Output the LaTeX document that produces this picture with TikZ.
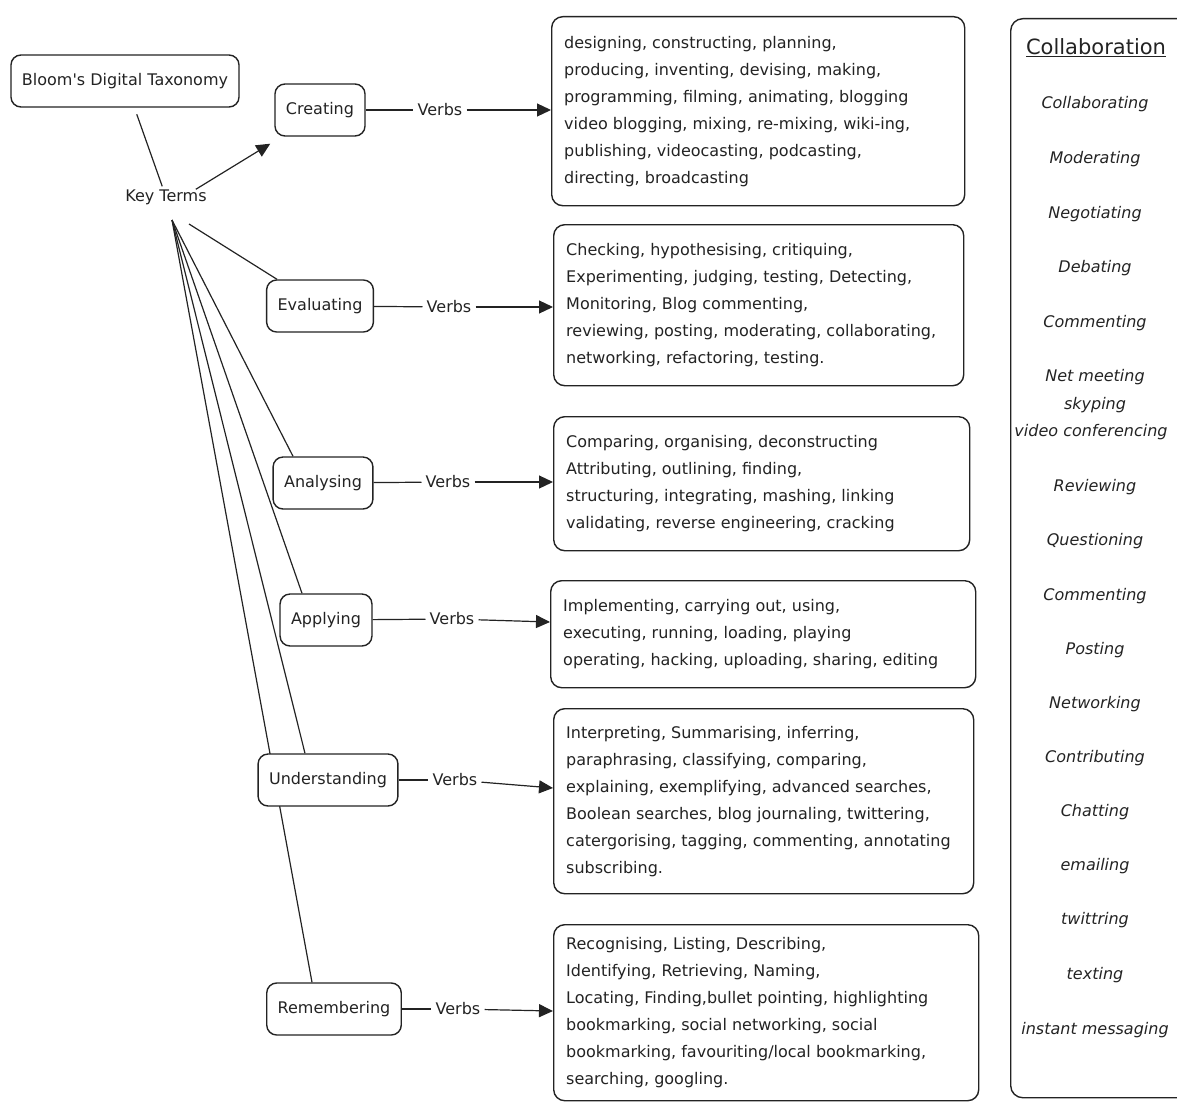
\documentclass[tikz,border=0pt]{standalone}
\usepackage{fontspec}
\setmainfont{DejaVu Sans}
\usetikzlibrary{arrows.meta,backgrounds,calc}
\definecolor{ink}{HTML}{232323}
\begin{document}
\begin{tikzpicture}[x=1pt,y=-1pt,
  every node/.style={text=ink, font=\fontsize{16}{27}\selectfont},
  term/.style={draw=ink, line width=1.4pt, rounded corners=10pt, fill=white, minimum height=52pt, inner xsep=11pt},
  vbox/.style={draw=ink, line width=1.4pt, rounded corners=11pt, fill=white, anchor=north west},
  vtext/.style={anchor=west, align=left, inner sep=0pt},
  verb/.style={inner xsep=4pt, inner ysep=2pt},
  conn/.style={draw=ink, line width=1.2pt},
  arr/.style={conn, -{Triangle[length=14pt,width=13pt]}},
  citem/.style={font=\fontsize{16}{27}\selectfont\itshape}
]
\useasboundingbox (0,0) rectangle (1177,1108);

% left column
\node[term] (bdt) at (125,81) {Bloom\textquotesingle s Digital Taxonomy};
\node[inner sep=3pt] (kt) at (166,197) {Key Terms};
\node[term] (cre) at (320,110) {Creating};
\node[term] (eva) at (320,306) {Evaluating};
\node[term] (ana) at (323,483) {Analysing};
\node[term] (app) at (326,620) {Applying};
\node[term] (und) at (328,780) {Understanding};
\node[term] (rem) at (334,1009) {Remembering};

\coordinate (fan) at (172,220);
\coordinate (fanb) at (189,224);

\begin{scope}[on background layer]
  \draw[conn, shorten <=7pt] (bdt) -- (kt);
  \draw[conn] (fanb) -- ([xshift=-43pt]eva.north);
  \draw[conn] (fan) -- ([xshift=-30pt]ana.north);
  \draw[conn] (fan) -- ([xshift=-24pt]app.north);
  \draw[conn] (fan) -- ([xshift=-23pt]und.north);
  \draw[conn] (fan) -- ([xshift=-22pt]rem.north);
\end{scope}
\draw[arr] ([xshift=-14pt,yshift=-3pt]kt.north east) -- ([xshift=-4pt,yshift=-7pt]cre.south west);

% verb boxes
\node[vbox, minimum width=413pt, minimum height=189pt] (vcre) at (551,16) {};
\node[vtext] (tcre) at ([xshift=13pt]vcre.west) {designing, constructing, planning,\\
producing, inventing, devising, making,\\
programming, filming, animating, blogging\\
video blogging, mixing, re-mixing, wiki-ing,\\
publishing, videocasting, podcasting,\\
directing, broadcasting};

\node[vbox, minimum width=410pt, minimum height=161pt] (veva) at (553,224) {};
\node[vtext] (teva) at ([xshift=13pt]veva.west) {Checking, hypothesising, critiquing,\\
Experimenting, judging, testing, Detecting,\\
Monitoring, Blog commenting,\\
reviewing, posting, moderating, collaborating,\\
networking, refactoring, testing.};

\node[vbox, minimum width=416pt, minimum height=134pt] (vana) at (553,416) {};
\node[vtext] (tana) at ([xshift=13pt]vana.west) {Comparing, organising, deconstructing\\
Attributing, outlining, finding,\\
structuring, integrating, mashing, linking\\
validating, reverse engineering, cracking};

\node[vbox, minimum width=425pt, minimum height=107pt] (vapp) at (550,580) {};
\node[vtext] (tapp) at ([xshift=13pt]vapp.west) {Implementing, carrying out, using,\\
executing, running, loading, playing\\
operating, hacking, uploading, sharing, editing};

\node[vbox, minimum width=420pt, minimum height=185pt] (vund) at (553,708) {};
\node[vtext] (tund) at ([xshift=13pt]vund.west) {Interpreting, Summarising, inferring,\\
paraphrasing, classifying, comparing,\\
explaining, exemplifying, advanced searches,\\
Boolean searches, blog journaling, twittering,\\
catergorising, tagging, commenting, annotating\\
subscribing.};

\node[vbox, minimum width=425pt, minimum height=176pt] (vrem) at (553,924) {};
\node[vtext] (trem) at ([xshift=13pt]vrem.west) {Recognising, Listing, Describing,\\
Identifying, Retrieving, Naming,\\
Locating, Finding,bullet pointing, highlighting\\
bookmarking, social networking, social\\
bookmarking, favouriting/local bookmarking,\\
searching, googling.};

% Verbs connectors
\node[verb] (vb1) at (440,110) {Verbs};
\node[verb] (vb2) at (449,307) {Verbs};
\node[verb] (vb3) at (448,482) {Verbs};
\node[verb] (vb4) at (452,619) {Verbs};
\node[verb] (vb5) at (455,780) {Verbs};
\node[verb] (vb6) at (458,1009) {Verbs};
\draw[conn] (cre) -- (vb1);
\draw[conn] (eva) -- (vb2);
\draw[conn] (ana) -- (vb3);
\draw[conn] (app) -- (vb4);
\draw[conn] (und) -- (vb5);
\draw[conn] (rem) -- (vb6);
\draw[arr] (vb1) -- (vcre.west |- vb1);
\draw[arr] (vb2) -- (veva.west |- vb2);
\draw[arr] (vb3) -- (vana.west |- vb3);
\draw[arr] (vb4) -- ([yshift=-3pt]vapp.west |- vb4);
\draw[arr] (vb5) -- ([yshift=-8pt]vund.west |- vb5);
\draw[arr] (vb6) -- ([yshift=-2pt]vrem.west |- vb6);

% collaboration column
\node[draw=ink, line width=1.4pt, rounded corners=12pt, anchor=north west,
      minimum width=195pt, minimum height=1079pt] (colbox) at (1010,18) {};
\node[font=\fontsize{21}{24}\selectfont] (ctitle) at (1096,48) {\underline{Collaboration}};
\node[citem] (c1) at (1095,104) {Collaborating};
\node[citem] (c2) at (1095,159) {Moderating};
\node[citem] (c3) at (1095,214) {Negotiating};
\node[citem] (c4) at (1095,268) {Debating};
\node[citem] (c5) at (1095,323) {Commenting};
\node[citem] (c6) at (1095,377) {Net meeting};
\node[citem] (c7) at (1095,405) {skyping};
\node[citem] (c8) at (1091,432) {video conferencing};
\node[citem] (c9) at (1095,487) {Reviewing};
\node[citem] (c10) at (1095,541) {Questioning};
\node[citem] (c11) at (1095,596) {Commenting};
\node[citem] (c12) at (1095,650) {Posting};
\node[citem] (c13) at (1095,704) {Networking};
\node[citem] (c14) at (1095,758) {Contributing};
\node[citem] (c15) at (1095,812) {Chatting};
\node[citem] (c16) at (1095,866) {emailing};
\node[citem] (c17) at (1095,920) {twittring};
\node[citem] (c18) at (1095,975) {texting};
\node[citem] (c19) at (1095,1030) {instant messaging};
\end{tikzpicture}
\end{document}
